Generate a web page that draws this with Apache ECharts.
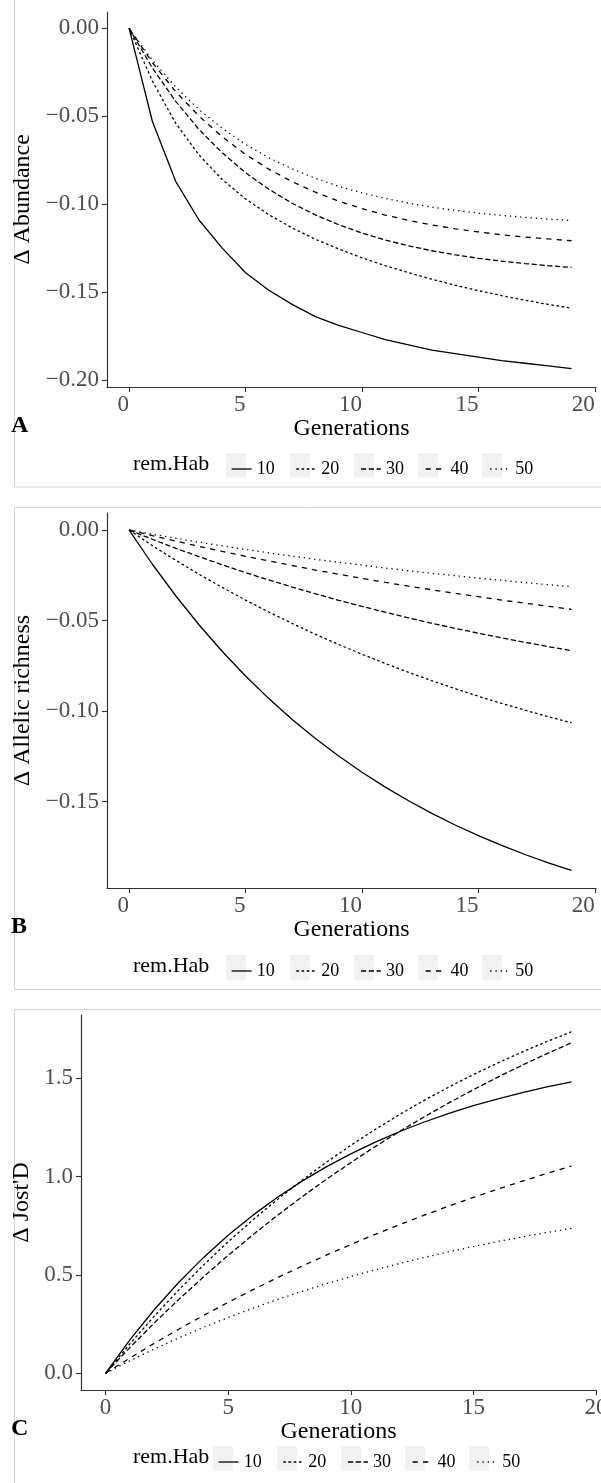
<!DOCTYPE html>
<html><head><meta charset="utf-8">
<script src="https://cdn.jsdelivr.net/npm/echarts@6/dist/echarts.min.js"></script>
<style>html,body{margin:0;padding:0;background:#fff}#c{width:601px;height:1483px}</style>
</head><body><div id="c"></div>
<script>
// ---------- data ----------
const generations = [0,1,2,3,4,5,6,7,8,9,10,11,12,13,14,15,16,17,18,19];
const remHab = ['10','20','30','40','50'];

// Panel A: delta abundance
const abund10 = [0,-0.053,-0.087,-0.109,-0.125,-0.139,-0.149,-0.157,-0.164,-0.169,-0.173,-0.177,-0.180,-0.183,-0.185,-0.187,-0.189,-0.1905,-0.192,-0.1935];
const abund20 = [0,-0.030,-0.054,-0.072,-0.086,-0.097,-0.106,-0.1135,-0.120,-0.1255,-0.1305,-0.135,-0.139,-0.1427,-0.1461,-0.1492,-0.152,-0.1546,-0.157,-0.1592];
const abund30 = [0,-0.0226,-0.0415,-0.0575,-0.0708,-0.0821,-0.0915,-0.0995,-0.1061,-0.1117,-0.1164,-0.1204,-0.1237,-0.1265,-0.1288,-0.1308,-0.1324,-0.1338,-0.1350,-0.1360];
const abund40 = [0,-0.0195,-0.0360,-0.0499,-0.0617,-0.0717,-0.0801,-0.0872,-0.0932,-0.0983,-0.1025,-0.1062,-0.1092,-0.1118,-0.1140,-0.1158,-0.1174,-0.1187,-0.1198,-0.1208];
const abund50 = [0,-0.0181,-0.0334,-0.0462,-0.0569,-0.0660,-0.0736,-0.0799,-0.0853,-0.0898,-0.0936,-0.0967,-0.0994,-0.1017,-0.1035,-0.1051,-0.1064,-0.1075,-0.1085,-0.1093];

// Panel B: delta allelic richness
const allel10 = [0,-0.0189,-0.0363,-0.0523,-0.0671,-0.0806,-0.0931,-0.1046,-0.1151,-0.1248,-0.1338,-0.1420,-0.1495,-0.1565,-0.1629,-0.1688,-0.1742,-0.1792,-0.1838,-0.1880];
const allel20 = [0,-0.0086,-0.0167,-0.0244,-0.0317,-0.0387,-0.0453,-0.0516,-0.0576,-0.0632,-0.0686,-0.0737,-0.0786,-0.0832,-0.0876,-0.0918,-0.0957,-0.0995,-0.1031,-0.1065];
const allel30 = [0,-0.0051,-0.0101,-0.0147,-0.0192,-0.0235,-0.0276,-0.0315,-0.0352,-0.0388,-0.0422,-0.0454,-0.0485,-0.0515,-0.0543,-0.0570,-0.0596,-0.0620,-0.0644,-0.0666];
const allel40 = [0,-0.0031,-0.0061,-0.0090,-0.0118,-0.0145,-0.0171,-0.0196,-0.0221,-0.0244,-0.0267,-0.0289,-0.0310,-0.0330,-0.0350,-0.0368,-0.0387,-0.0404,-0.0421,-0.0438];
const allel50 = [0,-0.0023,-0.0045,-0.0067,-0.0087,-0.0107,-0.0126,-0.0144,-0.0162,-0.0178,-0.0194,-0.0210,-0.0225,-0.0239,-0.0252,-0.0266,-0.0278,-0.0290,-0.0302,-0.0313];

// Panel C: delta Jost's D
const jost10 = [0,0.1714,0.3256,0.4644,0.5893,0.7017,0.8029,0.8939,0.9758,1.0497,1.1160,1.1758,1.2296,1.2779,1.3214,1.3607,1.3960,1.4277,1.4563,1.4820];
const jost20 = [0,0.1507,0.2924,0.4255,0.5509,0.6685,0.7790,0.8830,0.9807,1.0726,1.1590,1.2402,1.3165,1.3881,1.4557,1.5190,1.5785,1.6346,1.6873,1.7368];
const jost30 = [0,0.1318,0.2575,0.3772,0.4911,0.5999,0.7034,0.8021,0.8963,0.9861,1.0713,1.1529,1.2306,1.3044,1.3750,1.4421,1.5063,1.5672,1.6252,1.6810];
const jost40 = [0,0.0781,0.1531,0.2252,0.2943,0.3605,0.4242,0.4855,0.5441,0.6005,0.6546,0.7066,0.7564,0.8042,0.8501,0.8943,0.9367,0.9773,1.0163,1.0538];
const jost50 = [0,0.0640,0.1241,0.1806,0.2338,0.2837,0.3306,0.3747,0.4162,0.4552,0.4919,0.5263,0.5587,0.5891,0.6177,0.6446,0.6699,0.6936,0.7160,0.7370];

const xTicks = [0,5,10,15,20];
const yTicksA = [0,-0.05,-0.10,-0.15,-0.20];
const yTicksB = [0,-0.05,-0.10,-0.15];
const yTicksC = [0,0.5,1.0,1.5];

const panelLetters = ['A','B','C'];
const yTitles = ['\u0394 Abundance','\u0394 Allelic richness',"\u0394 Jost'D"];
const xTitle = 'Generations';
const legendTitle = 'rem.Hab';

// ---------- styling / layout ----------
const FONT = "'Liberation Serif','Times New Roman',serif";
const dashFor = {'10':'solid','20':[2.6,2.6],'30':[5.2,2.6],'40':[5.2,5.2],'50':[1.3,3.9]};
const panelData = [
  [abund10,abund20,abund30,abund40,abund50],
  [allel10,allel20,allel30,allel40,allel50],
  [jost10,jost20,jost30,jost40,jost50]
];
const layout = [
  {left:107, top:12,   axisY:387,  xmin:-0.95, xmax:20.05, ymin:-0.204, ymax:0.0093, yt:yTicksA, dec:2, xAlign:'right', nameGapY:63, letterY:427, legY:465, legLeft:226, box:[-5,492]},
  {left:107, top:513,  axisY:888,  xmin:-0.95, xmax:20.05, ymin:-0.1977, ymax:0.0094, yt:yTicksB, dec:2, xAlign:'right', nameGapY:63, letterY:928, legY:967, legLeft:226, box:[507.5,482]},
  {left:81,  top:1015, axisY:1390, xmin:-1.0, xmax:20.0, ymin:-0.085, ymax:1.822, yt:yTicksC, dec:1, xAlign:'center', nameGapY:38, letterY:1430, legY:1458, legLeft:213, box:[1009.5,500]}
];

const fmt = (v, d) => v.toFixed(d).replace('-', '\u2212');

const grid = [], xAxis = [], yAxis = [], series = [], legend = [], graphic = [];
layout.forEach((L, p) => {
  grid.push({left:L.left, right:5, top:L.top, height:L.axisY - L.top, containLabel:false, outerBoundsMode:'none'});
  xAxis.push({
    type:'value', gridIndex:p, min:L.xmin, max:L.xmax,
    axisLine:{show:true, onZero:false, lineStyle:{color:'#333', width:1.2}},
    axisTick:{show:true, customValues:xTicks, length:5, lineStyle:{color:'#333', width:1.1}},
    axisLabel:{customValues:xTicks, align:L.xAlign, margin:6, fontSize:23, color:'#4D4D4D', fontFamily:FONT, formatter:v=>String(v), hideOverlap:false},
    splitLine:{show:false},
    name:xTitle, nameLocation:'middle', nameGap:26,
    nameTextStyle:{fontSize:24, color:'#000', fontFamily:FONT}
  });
  yAxis.push({
    type:'value', gridIndex:p, min:L.ymin, max:L.ymax,
    axisLine:{show:true, onZero:false, lineStyle:{color:'#333', width:1.2}},
    axisTick:{show:true, customValues:L.yt, length:5, lineStyle:{color:'#333', width:1.1}},
    axisLabel:{customValues:L.yt, margin:8, fontSize:23, color:'#4D4D4D', fontFamily:FONT, formatter:v=>fmt(v, L.dec)},
    splitLine:{show:false},
    name:yTitles[p], nameLocation:'middle', nameRotate:90, nameGap:L.nameGapY,
    nameTextStyle:{fontSize:24, color:'#000', fontFamily:FONT}
  });
  remHab.forEach((k, i) => {
    const vals = panelData[p][i];
    series.push({
      type:'line', name:k, xAxisIndex:p, yAxisIndex:p,
      data: generations.map((g, j) => [g, vals[j]]),
      symbol:'none', showSymbol:false, silent:true, animation:false,
      lineStyle:{color:'#000', width:1.3, type:dashFor[k], cap:'butt'},
      itemStyle:{color:'#000'}
    });
  });
  legend.push({
    data:remHab, left:L.legLeft, top:L.legY - 10, orient:'horizontal',
    itemWidth:20, itemHeight:20, itemGap:21, selectedMode:false,
    textStyle:{fontSize:18, color:'#000', fontFamily:FONT},
    itemStyle:{opacity:0, color:'transparent', borderWidth:0},
    lineStyle:{width:1.3, color:'#000'}
  });
  // legend key backgrounds
  remHab.forEach((k, i) => {
    graphic.push({type:'rect', silent:true, z:0,
      shape:{x:L.legLeft + i*64, y:L.legY - 12, width:20, height:25},
      style:{fill:'#F2F2F2'}});
  });
  graphic.push({type:'text', silent:true, left:133, top:L.legY - 12,
    style:{text:legendTitle, font:'22px ' + FONT, fill:'#000'}});
  graphic.push({type:'text', silent:true, left:11, top:L.letterY - 13,
    style:{text:panelLetters[p], font:'bold 24px ' + FONT, fill:'#000'}});
  graphic.push({type:'rect', silent:true, z:-1,
    shape:{x:14.5, y:L.box[0], width:600, height:L.box[1]},
    style:{fill:'none', stroke:'#D3D3D3', lineWidth:1}});
});

const chart = echarts.init(document.getElementById('c'), null, {renderer:'canvas', width:601, height:1483});
chart.setOption({
  backgroundColor:'#fff', animation:false,
  grid, xAxis, yAxis, series, legend, graphic
});
</script></body></html>
